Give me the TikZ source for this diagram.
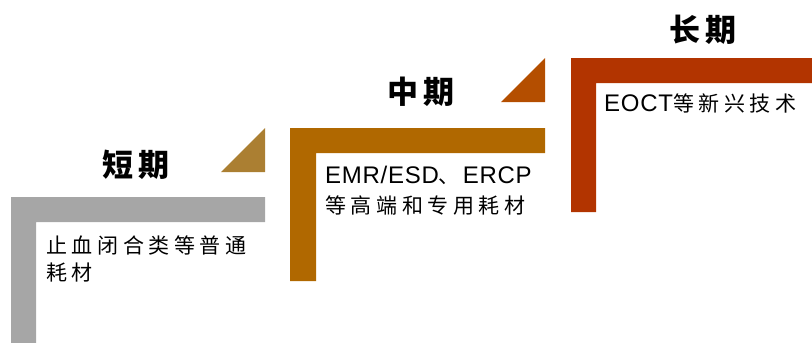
\documentclass[tikz,border=0pt]{standalone}
\usepackage{fontspec}
\setmainfont[LetterSpace=3]{Liberation Sans}
\newfontfamily\cjk[LetterSpace=22]{Noto Sans CJK SC}
\newfontfamily\cjktitle[LetterSpace=15]{Noto Sans CJK SC}
\definecolor{cgray}{RGB}{166,166,166}
\definecolor{cgold}{RGB}{171,127,50}
\definecolor{cbrown}{RGB}{176,104,0}
\definecolor{corange}{RGB}{180,78,0}
\definecolor{cred}{RGB}{178,52,0}
\tikzset{
  title/.style={inner sep=0pt, font=\cjktitle\bfseries\fontsize{31}{31}\selectfont},
  body/.style={inner sep=0pt, anchor=base west, font=\fontsize{21}{24}\selectfont},
  latin/.style={inner sep=0pt, anchor=base west, font=\fontsize{24}{26}\selectfont}
}
\begin{document}
\begin{tikzpicture}[x=1pt,y=-1pt]
\useasboundingbox (0,0) rectangle (812,343);
% short term
\fill[cgray] (11,197) -- (265,197) -- (265,222) -- (36,222) -- (36,343) -- (11,343) -- cycle;
\fill[cgold] (221,172) -- (265,128) -- (265,172) -- cycle;
% mid term
\fill[cbrown] (290,128) -- (545,128) -- (545,153) -- (316,153) -- (316,281) -- (290,281) -- cycle;
\fill[corange] (501,102) -- (545,58) -- (545,102) -- cycle;
% long term
\fill[cred] (571,58) -- (812,58) -- (812,83) -- (596,83) -- (596,212) -- (571,212) -- cycle;
% titles
\node[title] (t1) at (136,165) {短期};
\node[title] (t2) at (421,92) {中期};
\node[title] (t3) at (703,30) {长期};
% texts
\node[body] (a1) at (46,253.5) {\cjk 止血闭合类等普通};
\node[body] (a2) at (46,280.5) {\cjk 耗材};
\node[latin] (b1) at (325,183.5) {EMR/ESD{\cjk\fontsize{21}{24}\selectfont 、}\hspace{3pt}ERCP};
\node[body] (b2) at (325,213.5) {\cjk 等高端和专用耗材};
\node[latin] (c1) at (604,111.5) {EOCT{\cjk\fontsize{21}{24}\selectfont 等新兴技术}};
\end{tikzpicture}
\end{document}
